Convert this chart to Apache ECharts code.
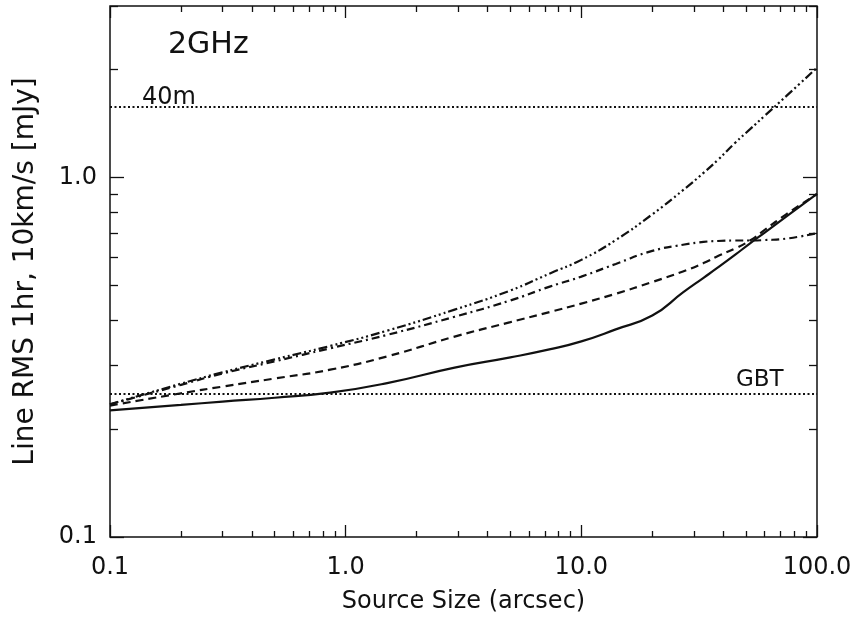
<!DOCTYPE html>
<html>
<head>
<meta charset="utf-8">
<script src="https://cdn.jsdelivr.net/npm/echarts@6/dist/echarts.min.js"></script>
<style>
  html, body { margin: 0; padding: 0; background: #fff; }
  #chart { width: 858px; height: 619px; }
</style>
</head>
<body>
<div id="chart"></div>
<script>
// source size (arcsec)
const sizes = [0.1, 0.2, 0.3, 0.5, 0.86, 1.5, 2.9, 5, 7.4, 10, 14, 20, 27, 33, 38, 45, 52, 60, 74, 100]
// line rms, one array per curve
const rmsSolid = [0.225, 0.233, 0.238, 0.244, 0.252, 0.268, 0.296, 0.316, 0.333, 0.350, 0.378, 0.413, 0.479, 0.526, 0.562, 0.610, 0.656, 0.703, 0.778, 0.900]
const rmsDash = [0.232, 0.251, 0.262, 0.276, 0.292, 0.318, 0.361, 0.396, 0.423, 0.446, 0.475, 0.512, 0.548, 0.578, 0.605, 0.635, 0.668, 0.715, 0.790, 0.900]
const rmsDashDot = [0.234, 0.265, 0.285, 0.308, 0.335, 0.365, 0.410, 0.455, 0.498, 0.530, 0.575, 0.625, 0.650, 0.662, 0.666, 0.668, 0.668, 0.670, 0.676, 0.700]
const rmsDashDotDot = [0.234, 0.267, 0.287, 0.312, 0.340, 0.375, 0.429, 0.485, 0.542, 0.590, 0.670, 0.790, 0.922, 1.030, 1.120, 1.250, 1.363, 1.485, 1.684, 2.020]
// reference levels
const level40m = 1.57
const levelGBT = 0.25

const xMajor = [0.1, 1, 10, 100]
const xTickLabels = ['0.1', '1.0', '10.0', '100.0']
const xMinor = [0.2, 0.3, 0.4, 0.5, 0.6, 0.7, 0.8, 0.9, 2, 3, 4, 5, 6, 7, 8, 9, 20, 30, 40, 50, 60, 70, 80, 90]
const yMajor = [0.1, 1]
const yTickLabels = ['0.1', '1.0']
const yMinor = [0.2, 0.3, 0.4, 0.5, 0.6, 0.7, 0.8, 0.9, 2, 3]

const FONT = 'DejaVu Sans'
const INK = '#111'

function pickLabel(values, labels) {
    return function (v) {
        const i = values.findIndex(m => Math.abs(Math.log10(m) - Math.log10(v)) < 1e-6)
        return i < 0 ? '' : labels[i]
    }
}

// one axis per tick set (major / minor) and per side (bottom,top / left,right)
function xAxisOf(position, ticks, len, withLabels) {
    return {
        type: 'log', logBase: 10, min: 0.1, max: 100, position: position,
        axisLine: { show: false },
        splitLine: { show: false },
        axisTick: { show: true, inside: true, length: len, customValues: ticks, lineStyle: { color: INK, width: 1.3 } },
        axisLabel: withLabels ? {
            show: true, customValues: xMajor, margin: 19,
            fontFamily: FONT, fontSize: 24, color: INK,
            formatter: pickLabel(xMajor, xTickLabels)
        } : { show: false }
    }
}

function yAxisOf(position, ticks, len, withLabels) {
    return {
        type: 'log', logBase: 10, min: 0.1, max: 3, position: position,
        axisLine: { show: false },
        splitLine: { show: false },
        axisTick: { show: true, inside: true, length: len, customValues: ticks, lineStyle: { color: INK, width: 1.3 } },
        axisLabel: withLabels ? {
            show: true, customValues: yMajor, margin: 13,
            fontFamily: FONT, fontSize: 24, color: INK,
            formatter: pickLabel(yMajor, yTickLabels)
        } : { show: false }
    }
}

const xMain = xAxisOf('bottom', xMajor, 12, true)
xMain.name = 'Source Size (arcsec)'
xMain.nameLocation = 'middle'
xMain.nameGap = 53
xMain.nameTextStyle = { fontFamily: FONT, fontSize: 24, color: INK }

const yMain = yAxisOf('left', yMajor, 14, true)
yMain.name = 'Line RMS 1hr, 10km/s [mJy]'
yMain.nameLocation = 'middle'
yMain.nameGap = 70
yMain.nameTextStyle = { fontFamily: FONT, fontSize: 28, color: INK }

function curve(values, dash) {
    return {
        type: 'line',
        data: sizes.map((s, i) => [s, values[i]]),
        showSymbol: false,
        smooth: 0.5,
        lineStyle: { color: INK, width: 2.2, type: dash },
        silent: true
    }
}

function level(value) {
    return {
        type: 'line',
        data: [[0.1, value], [100, value]],
        showSymbol: false,
        lineStyle: { color: INK, width: 2, type: [2, 2.5] },
        silent: true
    }
}

const option = {
    animation: false,
    backgroundColor: '#fff',
    grid: {
        left: 110, right: 41, top: 6, bottom: 82,
        show: true, borderColor: INK, borderWidth: 1.5
    },
    xAxis: [
        xMain,
        xAxisOf('bottom', xMinor, 6, false),
        xAxisOf('top', xMajor, 12, false),
        xAxisOf('top', xMinor, 6, false)
    ],
    yAxis: [
        yMain,
        yAxisOf('left', yMinor, 8, false),
        yAxisOf('right', yMajor, 14, false),
        yAxisOf('right', yMinor, 8, false)
    ],
    series: [
        level(level40m),
        level(levelGBT),
        curve(rmsSolid, 'solid'),
        curve(rmsDash, [8, 5]),
        curve(rmsDashDot, [8, 4, 2, 4]),
        curve(rmsDashDotDot, [9, 3, 2, 3, 2, 3, 2, 3])
    ],
    graphic: [
        { type: 'text', x: 168, y: 45, style: { text: '2GHz', font: '30px "DejaVu Sans"', fill: INK, verticalAlign: 'middle' } },
        { type: 'text', x: 142, y: 98, style: { text: '40m', font: '24px "DejaVu Sans"', fill: INK, verticalAlign: 'middle' } },
        { type: 'text', x: 736, y: 380, style: { text: 'GBT', font: '23px "DejaVu Sans"', fill: INK, verticalAlign: 'middle' } }
    ]
}

const chart = echarts.init(document.getElementById('chart'))
chart.setOption(option)
</script>
</body>
</html>
